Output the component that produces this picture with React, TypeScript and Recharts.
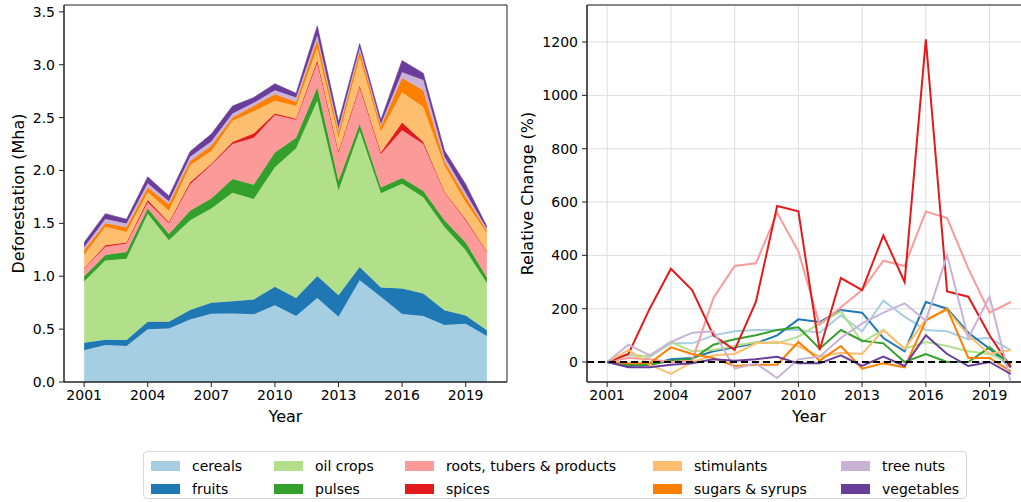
// @ts-nocheck
import {
  AreaChart,
  Area,
  LineChart,
  Line,
  XAxis,
  YAxis,
  CartesianGrid,
  ReferenceLine,
  ReferenceArea,
} from 'recharts';

const years = [2001, 2002, 2003, 2004, 2005, 2006, 2007, 2008, 2009, 2010, 2011, 2012, 2013, 2014, 2015, 2016, 2017, 2018, 2019, 2020];
const xTicks = [2001, 2004, 2007, 2010, 2013, 2016, 2019];
const leftTicks = [0, 0.5, 1, 1.5, 2, 2.5, 3, 3.5];
const rightTicks = [0, 200, 400, 600, 800, 1000, 1200];

const categories = ['cereals', 'fruits', 'oil crops', 'pulses', 'roots, tubers & products', 'spices', 'stimulants', 'sugars & syrups', 'tree nuts', 'vegetables'];
const colors = ['#a6cee3', '#1f78b4', '#b2df8a', '#33a02c', '#fb9a99', '#e31a1c', '#fdbf6f', '#ff7f00', '#cab2d6', '#6a3d9a'];

// deforestation, Mha
const cereals = [0.30, 0.35, 0.34, 0.50, 0.505, 0.59, 0.645, 0.648, 0.64, 0.726, 0.625, 0.795, 0.616, 0.962, 0.805, 0.642, 0.623, 0.538, 0.55, 0.434];
const fruits = [0.07, 0.05, 0.056, 0.07, 0.065, 0.09, 0.105, 0.116, 0.14, 0.174, 0.17, 0.208, 0.204, 0.126, 0.088, 0.242, 0.214, 0.141, 0.08, 0.056];
const oilCrops = [0.58, 0.75, 0.77, 1.02, 0.77, 0.85, 0.89, 1.026, 0.95, 1.13, 1.415, 1.657, 0.99, 1.289, 0.893, 0.991, 0.911, 0.786, 0.615, 0.447];
const pulses = [0.05, 0.05, 0.063, 0.05, 0.06, 0.09, 0.095, 0.13, 0.135, 0.14, 0.10, 0.125, 0.09, 0.063, 0.054, 0.055, 0.057, 0.065, 0.075, 0.051];
const roots = [0.07, 0.08, 0.08, 0.06, 0.10, 0.25, 0.32, 0.33, 0.445, 0.355, 0.17, 0.235, 0.27, 0.346, 0.317, 0.45, 0.445, 0.265, 0.21, 0.242];
const spices = [0.005, 0.012, 0.01, 0.02, 0.01, 0.02, 0.01, 0.02, 0.04, 0.015, 0.01, 0.02, 0.01, 0.014, 0.013, 0.075, 0.02, 0.005, 0.008, 0.005];
const stimulants = [0.125, 0.175, 0.10, 0.075, 0.11, 0.16, 0.12, 0.20, 0.21, 0.12, 0.12, 0.12, 0.13, 0.275, 0.20, 0.285, 0.33, 0.247, 0.162, 0.175];
const sugars = [0.045, 0.035, 0.045, 0.045, 0.06, 0.04, 0.05, 0.03, 0.05, 0.06, 0.04, 0.076, 0.05, 0.055, 0.045, 0.135, 0.16, 0.041, 0.05, 0.02];
const treeNuts = [0.03, 0.04, 0.035, 0.04, 0.03, 0.04, 0.04, 0.04, 0.03, 0.04, 0.04, 0.044, 0.04, 0.03, 0.025, 0.055, 0.095, 0.042, 0.04, 0.02];
const vegetables = [0.045, 0.05, 0.04, 0.06, 0.05, 0.05, 0.07, 0.07, 0.05, 0.06, 0.04, 0.088, 0.06, 0.04, 0.04, 0.11, 0.065, 0.06, 0.08, 0.02];

// relative change vs 2001, %
const cerealsPct = [0, 25, 20, 70, 70, 100, 115, 120, 120, 120, 110, 175, 115, 230, 170, 120, 115, 85, 90, 45];
const fruitsPct = [0, -15, -10, 10, 15, 40, 55, 70, 100, 160, 150, 195, 185, 90, 40, 225, 200, 110, 50, -20];
const oilCropsPct = [0, 30, 20, 75, 40, 45, 60, 75, 70, 95, 145, 190, 75, 120, 50, 75, 60, 40, 30, -5];
const pulsesPct = [0, -10, -10, 5, 10, 65, 85, 100, 120, 130, 50, 120, 80, 70, 0, 30, 0, 0, 55, -10];
const rootsPct = [0, 15, 10, 0, 5, 240, 360, 370, 560, 415, 140, 205, 270, 380, 360, 565, 540, 350, 185, 225];
const spicesPct = [0, 30, 200, 350, 270, 100, 45, 225, 585, 565, 45, 315, 270, 475, 300, 1210, 265, 245, 100, -20];
const stimulantsPct = [0, 45, -10, -45, 0, 25, 30, 70, 75, 60, 20, 35, 30, 120, 50, 160, 195, 100, 30, 45];
const sugarsPct = [0, -5, -5, 55, 30, 15, -15, -10, -10, 75, 5, 60, -25, -5, -20, 155, 200, 15, 15, -35];
const treeNutsPct = [0, 65, 25, 75, 110, 115, -25, -5, -60, 10, 20, 90, 145, 185, 220, 155, 400, 90, 245, -78];
const vegetablesPct = [0, -20, -20, -10, -5, 10, 5, 10, 20, -5, -5, 25, -15, 20, -15, 100, 30, -15, 0, -45];

const areaSeries = [cereals, fruits, oilCrops, pulses, roots, spices, stimulants, sugars, treeNuts, vegetables];
const lineSeries = [cerealsPct, fruitsPct, oilCropsPct, pulsesPct, rootsPct, spicesPct, stimulantsPct, sugarsPct, treeNutsPct, vegetablesPct];

const keys = categories.map((_, i) => 'c' + i);
const areaData = years.map((year, j) => {
  const row = { year };
  areaSeries.forEach((s, i) => (row[keys[i]] = s[j]));
  return row;
});
const lineData = years.map((year, j) => {
  const row = { year };
  lineSeries.forEach((s, i) => (row[keys[i]] = s[j]));
  return row;
});

const FONT = 'DejaVu Sans';
const tickStyle = { fill: '#000', fontSize: 14, fontFamily: FONT };
const axisColor = '#222';

export default function App() {
  return (
    <div style={{ position: 'fixed', left: 0, top: 0, width: 1021, height: 502, overflow: 'hidden', background: '#fff', fontFamily: FONT }}>
      <div style={{ position: 'absolute', left: 0, top: 0 }}>
        <AreaChart width={510} height={420} data={areaData} margin={{ top: 5, right: 3, left: 0, bottom: 0 }}>
          <XAxis
            type="number"
            dataKey="year"
            domain={[2000.05, 2020.95]}
            ticks={xTicks}
            allowDataOverflow
            height={38}
            tick={tickStyle}
            tickSize={5}
            tickMargin={3}
            stroke={axisColor}
          />
          <YAxis
            type="number"
            domain={[0, 3.565]}
            ticks={leftTicks}
            allowDataOverflow
            width={64}
            tick={tickStyle}
            tickSize={5}
            tickMargin={4}
            tickFormatter={(v) => v.toFixed(1)}
            stroke={axisColor}
          />
          {keys.map((k, i) => (
            <Area
              key={k}
              type="linear"
              dataKey={k}
              stackId="1"
              fill={colors[i]}
              fillOpacity={1}
              stroke={colors[i]}
              strokeWidth={0.6}
              dot={false}
              activeDot={false}
              isAnimationActive={false}
            />
          ))}
          <ReferenceArea x1={2000.05} x2={2020.95} y1={0} y2={3.565} fill="none" stroke={axisColor} strokeWidth={1} ifOverflow="visible" />
        </AreaChart>
      </div>

      <div style={{ position: 'absolute', left: 523, top: 0 }}>
        <LineChart width={513} height={420} data={lineData} margin={{ top: 5, right: 5, left: 0, bottom: 0 }}>
          <CartesianGrid stroke="#dddddd" strokeWidth={1} />
          <XAxis
            type="number"
            dataKey="year"
            domain={[2000.05, 2020.95]}
            ticks={xTicks}
            allowDataOverflow
            height={38}
            tick={tickStyle}
            tickSize={5}
            tickMargin={3}
            stroke={axisColor}
          />
          <YAxis
            type="number"
            domain={[-75, 1339]}
            ticks={rightTicks}
            allowDataOverflow
            width={64}
            tick={tickStyle}
            tickSize={5}
            tickMargin={4}
            stroke={axisColor}
          />
          {keys.map((k, i) => (
            <Line
              key={k}
              type="linear"
              dataKey={k}
              stroke={colors[i]}
              strokeWidth={2}
              dot={false}
              activeDot={false}
              isAnimationActive={false}
            />
          ))}
          <ReferenceLine y={0} stroke="#000" strokeWidth={2} strokeDasharray="7 4" />
          <ReferenceArea x1={2000.05} x2={2020.95} y1={-75} y2={1339} fill="none" stroke={axisColor} strokeWidth={1} ifOverflow="visible" />
        </LineChart>
      </div>

      <svg width={1021} height={502} style={{ position: 'absolute', left: 0, top: 0, pointerEvents: 'none' }}>
        <g fontFamily={FONT} fontSize={16} fill="#000" textAnchor="middle">
          <text x={18} y={193.5} transform="rotate(-90 18 193.5)" dominantBaseline="central">Deforestation (Mha)</text>
          <text x={285.5} y={416} dominantBaseline="central">Year</text>
          <text x={527.5} y={193.5} transform="rotate(-90 527.5 193.5)" dominantBaseline="central">Relative Change (%)</text>
          <text x={809} y={416} dominantBaseline="central">Year</text>
        </g>
      </svg>

      <div style={{ position: 'absolute', left: 143, top: 451, width: 824, height: 48, border: '1px solid #d6d6d6', borderRadius: 4, boxSizing: 'border-box' }}>
        {categories.map((name, i) => {
          const col = Math.floor(i / 2);
          const row = i % 2;
          const swatchX = [7, 130, 261, 509, 697][col];
          const cy = row === 0 ? 14 : 37;
          return (
            <div key={name} style={{ position: 'absolute', left: swatchX, top: cy - 9, height: 18, display: 'flex', alignItems: 'center', whiteSpace: 'nowrap' }}>
              <span style={{ display: 'inline-block', width: 29, height: 10, background: colors[i], marginRight: 12 }} />
              <span style={{ fontSize: 14, color: '#000', lineHeight: '18px' }}>{name}</span>
            </div>
          );
        })}
      </div>
    </div>
  );
}
